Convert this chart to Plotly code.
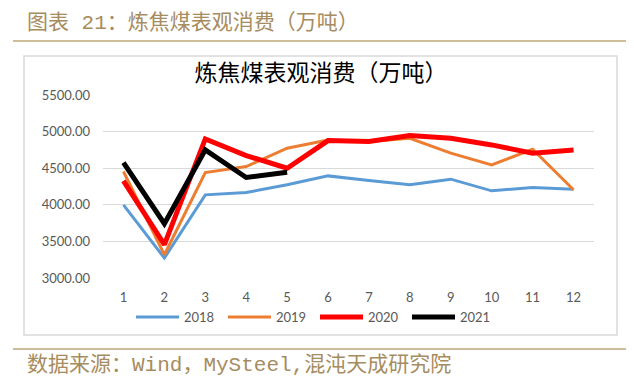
import plotly.graph_objects as go

months = [1, 2, 3, 4, 5, 6, 7, 8, 9, 10, 11, 12]
month_labels = ["1", "2", "3", "4", "5", "6", "7", "8", "9", "10", "11", "12"]
y2018 = [4000, 3273, 4136, 4168, 4273, 4395, 4332, 4273, 4350, 4191, 4236, 4214]
y2019 = [4455, 3318, 4441, 4523, 4773, 4886, 4864, 4909, 4705, 4545, 4759, 4205]
y2020 = [4327, 3455, 4900, 4673, 4500, 4877, 4864, 4945, 4909, 4818, 4705, 4750]
y2021 = [4577, 3741, 4750, 4373, 4445]
y_ticks = [3000, 3500, 4000, 4500, 5000, 5500]

W, H = 634, 380
L, R, T, B = 95, 586, 87, 270
pw, ph = R - L, B - T

def px(x):
    return (x - L) / pw

def py(y):
    return (B - y) / ph

fig = go.Figure()
series = [
    ("2018", y2018, "#5b9bd5", 3),
    ("2019", y2019, "#ed7d31", 3),
    ("2020", y2020, "#ff0000", 5),
    ("2021", y2021, "#000000", 5),
]
for name, ys, color, w in series:
    fig.add_trace(go.Scatter(
        x=months[:len(ys)], y=ys, name=name, mode="lines",
        line=dict(color=color, width=w),
    ))

gold_line = "#bfa677"
gold_text = "#a68c5e"
cjk = "Noto Sans CJK SC"
mono_cjk = "Liberation Mono, Noto Sans CJK SC"

fig.update_layout(
    width=W, height=H,
    margin=dict(l=L, r=W - R, t=T, b=H - B),
    paper_bgcolor="white", plot_bgcolor="white",
    showlegend=True,
    title=dict(text="炼焦煤表观消费（万吨）", x=313 / W, xanchor="center",
               y=1 - 65 / H, yanchor="middle",
               font=dict(family=cjk, size=23, color="#000000")),
    xaxis=dict(range=[0.5, 12.5], tickvals=months, ticktext=month_labels,
               showgrid=False, zeroline=False, showline=False, ticks="",
               ticklabelstandoff=10,
               tickfont=dict(family="Lato", size=13, color="#595959")),
    yaxis=dict(range=[3000, 5500], tickvals=y_ticks,
               ticktext=[f"{v:.2f}" for v in y_ticks],
               showgrid=True, gridcolor="#d9d9d9", gridwidth=1,
               zeroline=False, showline=False, ticks="", ticklabelstandoff=12,
               tickfont=dict(family="Lato", size=13, color="#595959")),
    legend=dict(orientation="h", x=px(123), xanchor="left",
                y=py(309), yanchor="middle",
                font=dict(family="Lato", size=13, color="#595959"),
                itemwidth=43, entrywidth=34, entrywidthmode="pixels",
                bgcolor="rgba(0,0,0,0)"),
    shapes=[
        dict(type="rect", xref="paper", yref="paper",
             x0=px(16), x1=px(609), y0=py(327), y1=py(48),
             line=dict(color="#d9d9d9", width=1.5), layer="below"),
        dict(type="line", xref="paper", yref="paper",
             x0=px(5), x1=px(620), y0=py(33), y1=py(33),
             line=dict(color=gold_line, width=1.5)),
        dict(type="line", xref="paper", yref="paper",
             x0=px(5), x1=px(620), y0=py(341), y1=py(341),
             line=dict(color=gold_line, width=1.5)),
    ],
    annotations=[
        dict(text="图表 21：炼焦煤表观消费（万吨）", xref="paper", yref="paper",
             x=px(17), y=py(15), xanchor="left", yanchor="middle", showarrow=False,
             font=dict(family=mono_cjk, size=21, color=gold_text)),
        dict(text="数据来源：Wind，MySteel,混沌天成研究院", xref="paper", yref="paper",
             x=px(17), y=py(357), xanchor="left", yanchor="middle", showarrow=False,
             font=dict(family=mono_cjk, size=21, color=gold_text)),
    ],
)

fig.write_html("out.html")
